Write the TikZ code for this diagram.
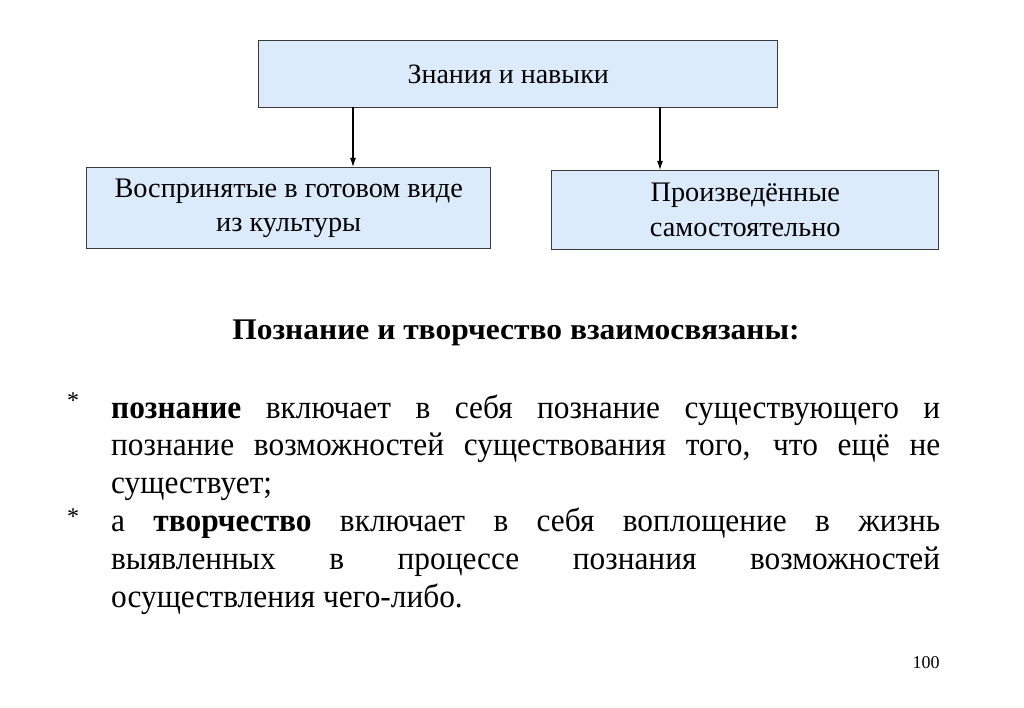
\documentclass[tikz,border=0pt]{standalone}
\usepackage{fontspec}
\setmainfont{Liberation Serif}
\newfontfamily\titlefont{Liberation Serif}[FakeStretch=1.05]
\newfontfamily\bodyfont{Liberation Serif}[FakeStretch=0.95]
\usetikzlibrary{arrows.meta}
\definecolor{boxfill}{HTML}{DBEBFC}
\definecolor{boxline}{HTML}{3A3A3A}
\tikzset{
  blk/.style={draw=boxline, line width=1.4pt, fill=boxfill, inner sep=0pt, anchor=north west, align=center},
  arr/.style={-{Latex[length=9pt,width=6pt]}, line width=1.1pt, black},
  para/.style={anchor=base west, inner sep=0pt, text width=829pt, align=justify, font=\bodyfont\fontsize{33pt}{37.8pt}\selectfont},
  star/.style={font=\fontsize{24pt}{28pt}\selectfont, inner sep=0pt}
}
\begin{document}
\begin{tikzpicture}[x=1pt,y=-1pt]
\useasboundingbox (0,0) rectangle (1024,708);
\fill[white] (0,0) rectangle (1024,708);
\node[blk, minimum width=519pt, minimum height=67pt, font=\fontsize{28pt}{34pt}\selectfont] (top) at (258,40) {Знания и навыки\hspace*{20pt}};
\node[blk, minimum width=404pt, minimum height=81pt, font=\fontsize{28.3pt}{34pt}\selectfont] (left) at (86,167) {Воспринятые в готовом виде\\из культуры};
\node[blk, minimum width=387pt, minimum height=79pt, font=\fontsize{28.3pt}{35pt}\selectfont] (right) at (551,170) {Произведённые\\самостоятельно};
\coordinate (la) at (353,107);
\coordinate (ra) at (660,107);
\draw[arr] (la) -- (la |- left.north);
\draw[arr] (ra) -- (ra |- right.north);
\node[font=\titlefont\bfseries\fontsize{30pt}{34pt}\selectfont] (title) at (516,333) {Познание и творчество взаимосвязаны:};
\node[para] (p1) at (111,418) {\textbf{познание} включает в себя познание существующего и\linebreak познание возможностей существования того, что ещё не\linebreak существует;\par а \textbf{творчество} включает в себя воплощение в жизнь\linebreak выявленных в процессе познания возможностей\linebreak осуществления чего-либо.};
\node[star] (s1) at (73,401) {*};
\node[star] (s2) at (73,517) {*};
\node[font=\fontsize{18pt}{20pt}\selectfont] (num) at (926,663) {100};
\end{tikzpicture}
\end{document}
